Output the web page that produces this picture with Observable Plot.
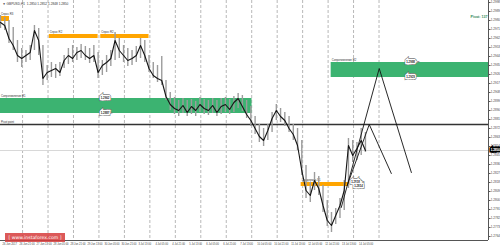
<!DOCTYPE html>
<html><head><meta charset="utf-8">
<script src="https://cdn.jsdelivr.net/npm/d3@7"></script>
<script src="https://cdn.jsdelivr.net/npm/@observablehq/plot@0.6"></script>
<style>
html,body{margin:0;padding:0;background:#fff;overflow:hidden;}
#wrap{position:relative;width:500px;height:247px;}
#chart svg{display:block;}
#wm{position:absolute;left:5px;top:233px;width:60px;height:9px;background:rgba(214,60,60,0.85);color:#fff;font:4.6px "DejaVu Sans",sans-serif;line-height:9px;text-align:center;white-space:nowrap;overflow:hidden;}
</style></head><body><div id="wrap"><div id="chart"></div><div id="wm">[ www.instaforex.com ]</div></div>
<script>
// ---- data ----
const header = "▼ GBPUSD,H1  1.2850 1.2852 1.2848 1.2850";
const pivotText = "Pivot: 137";
const highs = [1.2985,1.2983,1.2980,1.2973,1.2960,1.2952,1.2950,1.2955,1.2975,1.2972,1.2955,1.2935,1.2938,1.2936,1.2938,1.2945,1.2952,1.2955,1.2953,1.2956,1.2954,1.2952,1.2955,1.2948,1.2940,1.2945,1.2950,1.2968,1.2962,1.2955,1.2952,1.2950,1.2954,1.2962,1.2960,1.2945,1.2938,1.2935,
  1.2944,1.2920,1.2908,1.2903,1.2900,1.2902,1.2900,1.2901,1.2899,1.2903,1.2901,1.2900,1.2902,1.2900,1.2902,1.2903,1.2901,1.2904,1.2907,1.2905,1.2900,1.2894,1.2884,1.2876,1.2872,1.2876,1.2888,1.2896,1.2892,1.2888,1.2884,1.2876,1.2872,1.2860,1.2835,1.2818,1.2828,1.2824,1.2815,1.2800,1.2788,1.2792,1.2802,1.2820,1.2862,1.2860,1.2858,1.2872,1.2868];
const lows = [1.2972,1.2970,1.2957,1.2950,1.2938,1.2933,1.2938,1.2940,1.2950,1.2945,1.2915,1.2920,1.2923,1.2922,1.2924,1.2932,1.2936,1.2938,1.2940,1.2942,1.2940,1.2937,1.2938,1.2922,1.2925,1.2928,1.2934,1.2940,1.2942,1.2938,1.2934,1.2935,1.2938,1.2942,1.2938,1.2928,1.2922,1.2918,
  1.2915,1.2900,1.2890,1.2886,1.2884,1.2887,1.2884,1.2886,1.2884,1.2888,1.2886,1.2885,1.2887,1.2884,1.2886,1.2888,1.2886,1.2888,1.2892,1.2889,1.2882,1.2874,1.2866,1.2858,1.2854,1.2860,1.2868,1.2880,1.2878,1.2874,1.2868,1.2860,1.2850,1.2825,1.2802,1.2798,1.2810,1.2805,1.2788,1.2774,1.2768,1.2776,1.2782,1.2790,1.2812,1.2838,1.2840,1.2845,1.2848];
const closes = [1.2978,1.2975,1.2962,1.2955,1.2945,1.2942,1.2945,1.2948,1.2970,1.2960,1.2922,1.2928,1.2930,1.2932,1.2928,1.2940,1.2945,1.2942,1.2948,1.2950,1.2945,1.2942,1.2945,1.2928,1.2935,1.2938,1.2942,1.2960,1.2950,1.2945,1.2940,1.2942,1.2945,1.2955,1.2945,1.2932,1.2925,1.2922,
  1.2920,1.2904,1.2896,1.2892,1.2890,1.2895,1.2888,1.2894,1.2890,1.2896,1.2892,1.2890,1.2895,1.2888,1.2894,1.2896,1.2891,1.2898,1.2902,1.2894,1.2886,1.2880,1.2872,1.2864,1.2860,1.2870,1.2882,1.2890,1.2884,1.2880,1.2872,1.2866,1.2855,1.2830,1.2810,1.2805,1.2820,1.2812,1.2795,1.2780,1.2775,1.2785,1.2795,1.2810,1.2855,1.2845,1.2852,1.2860,1.2850];
const barHours = 4;             // hours between sampled bars
const priceMin = 1.2760, priceMax = 1.3000;
const hourMax = 460;
const zones = [
  {t1: 0,     t2: 8.5,   p1: 1.2979, p2: 1.2984, color: "orange", label: "Спрос R3"},
  {t1: 46,    t2: 92,    p1: 1.2962, p2: 1.2966, color: "orange", label: "Спрос R2"},
  {t1: 94.5,  t2: 140,   p1: 1.2962, p2: 1.2966, color: "orange", label: "Спрос R2"},
  {t1: 0,     t2: 237.1, p1: 1.2887, p2: 1.2902, color: "green",  label: "Сопротивление R1"},
  {t1: 311.7, t2: 460,   p1: 1.2923, p2: 1.2938, color: "green",  label: "Сопротивление R2"},
  {t1: 283.4, t2: 328.7, p1: 1.2814, p2: 1.2818, color: "orange", label: "Поддержка S1"}
];
const priceBoxes = [
  {t: 94.5, p: 1.2902, text: "1.2902"}, {t: 94.5, p: 1.2887, text: "1.2887"},
  {t: 382.5, p: 1.2938, text: "1.2938"}, {t: 382.5, p: 1.2923, text: "1.2923"},
  {t: 330.6, p: 1.2818, text: "1.2818"}, {t: 333.4, p: 1.2814, text: "1.2814"}
];
const pivot = 1.2876, pivotLabel = "Pivot point";
const current = 1.2850;
const paths = [
  {id: "a", t: 321.2, p: 1.2793}, {id: "a", t: 357.0, p: 1.2932}, {id: "a", t: 387.3, p: 1.2828},
  {id: "b", t: 326.8, p: 1.2815}, {id: "b", t: 347.6, p: 1.2876}, {id: "b", t: 368.4, p: 1.2827}
];
const gridHours = [20.8,44.8,68.8,92.8,116.8,140.8,164.8,188.8,212.8,236.8,260.8,284.8,308.8,332.8,356.8];
const timeLabels = ["26 Jun 2017","26 Jun 21:00","27 Jun 13:00","28 Jun 05:00","28 Jun 21:00","29 Jun 13:00","30 Jun 05:00","30 Jun 21:00","3 Jul 13:00","4 Jul 05:00","4 Jul 21:00","5 Jul 13:00","6 Jul 05:00","6 Jul 21:00","7 Jul 13:00","10 Jul 05:00","10 Jul 21:00","11 Jul 13:00","12 Jul 05:00","12 Jul 21:00","13 Jul 13:00","14 Jul 05:00"];
const labelHours = timeLabels.map((_, i) => 2 + 16 * i);
const yTicks = d3.range(1.2764, 1.3000, 0.0009);

// ---- build ----
const bars = highs.map((h, i) => ({t: i * barHours, high: h, low: lows[i], close: closes[i]}));
const fmt = d3.format(".4f");
const colors = {orange: "#ffa500", green: "#3cb371"};
const font = "Liberation Sans, Arial, sans-serif";

const chart = Plot.plot({
  width: 500, height: 247,
  marginLeft: 0, marginRight: 12, marginTop: 0, marginBottom: 7,
  style: {fontFamily: font, background: "#fff"},
  x: {domain: [0, hourMax]},
  y: {domain: [priceMin, priceMax]},
  marks: [
    Plot.ruleX(gridHours, {stroke: "#b8b8b8", strokeDasharray: "3,2"}),
    Plot.rect(zones, {x1: "t1", x2: "t2", y1: "p1", y2: "p2", fill: d => colors[d.color]}),
    Plot.text(zones, {x: "t1", y: "p2", text: "label", textAnchor: "start", dy: -2.5, dx: 0.5, fontSize: 2.8, fill: "#333"}),
    Plot.ruleY([current], {stroke: "#d8d8d8"}),
    Plot.ruleY([pivot], {stroke: "#333", strokeWidth: 1.4}),
    Plot.text([pivotLabel], {x: 0, y: pivot, text: d => d, textAnchor: "start", dy: -2.5, dx: 0.5, fontSize: 2.8, fill: "#333"}),
    Plot.ruleX(bars, {x: "t", y1: "low", y2: "high", stroke: "#9c9c9c", strokeWidth: 1.4}),
    Plot.line(bars, {x: "t", y: "close", stroke: "#151515", strokeWidth: 1.1}),
    Plot.line(paths, {x: "t", y: "p", z: "id", stroke: "#111", strokeWidth: 0.9}),
    Plot.text(priceBoxes, {x: "t", y: "p", text: "text", textAnchor: "start", fontSize: 2.8, fill: "#333", stroke: "#666", strokeWidth: 3.6, strokeLinejoin: "miter"}),
    Plot.text(priceBoxes, {x: "t", y: "p", text: "text", textAnchor: "start", fontSize: 2.8, fill: "#333", stroke: "#fff", strokeWidth: 2.6, strokeLinejoin: "miter"}),
    Plot.text(priceBoxes, {x: "t", y: "p", text: "text", textAnchor: "start", fontSize: 2.8, fill: "#333"}),
    Plot.ruleX([hourMax], {stroke: "#555"}),
    Plot.ruleY([priceMin], {stroke: "#555"}),
    Plot.axisY({anchor: "right", ticks: yTicks, tickSize: 1.5, tickPadding: 0.8, tickFormat: fmt, fontSize: 3, stroke: "#555", fill: "#444"}),
    Plot.axisX({ticks: [], label: null, tickSize: 0}),
    Plot.text([current], {x: hourMax, y: d => d, text: d => fmt(d), textAnchor: "start", dx: 2.2, fontSize: 3, fill: "#fff", stroke: "#000", strokeWidth: 3.2, strokeLinejoin: "miter"}),
    Plot.text([current], {x: hourMax, y: d => d, text: d => fmt(d), textAnchor: "start", dx: 2.2, fontSize: 3, fill: "#fff"}),
    Plot.text(timeLabels, {x: (d, i) => labelHours[i], y: priceMin, text: d => d, textAnchor: "start", dy: 3.6, fontSize: 2.6, fill: "#444"}),
    Plot.text([header], {frameAnchor: "top-left", text: d => d, dx: 2, dy: 2.5, fontSize: 3.2, fill: "#333"}),
    Plot.text([pivotText], {frameAnchor: "top-right", text: d => d, dx: -1, dy: 15, fontSize: 3.6, fontWeight: "bold", fill: "#2e8b57"})
  ]
});
document.getElementById("chart").appendChild(chart);
</script>
</body></html>
